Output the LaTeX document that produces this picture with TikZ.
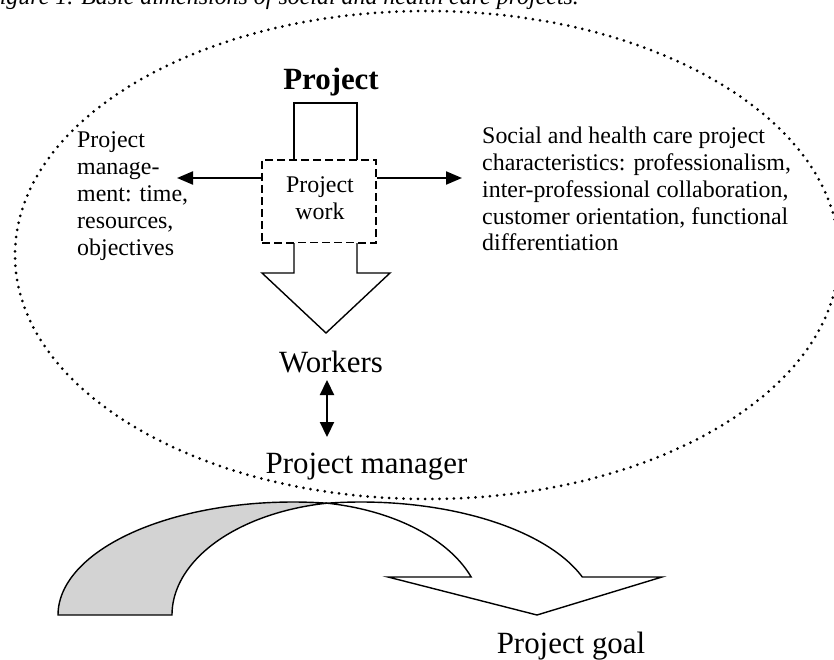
\documentclass[tikz,border=0pt]{standalone}
\usepackage{fontspec}
\setmainfont{Liberation Serif}
\usetikzlibrary{arrows.meta}
\definecolor{backband}{RGB}{211,211,211}
\begin{document}
\begin{tikzpicture}[x=1bp,y=-1bp,
  txt/.style={inner sep=0pt, font=\fontsize{24}{27}\selectfont},
  big/.style={inner sep=0pt, font=\fontsize{31}{36}\selectfont},
  outline/.style={line width=1.4bp, line join=miter},
  dotring/.style={line width=3bp, line cap=round, dash pattern=on 0bp off 7.2bp},
  dashbox/.style={draw, line width=1.4bp, dash pattern=on 8bp off 4bp, inner sep=0pt},
  flow/.style={line width=2.2bp, -{Triangle[length=16bp,width=13bp]}},
  twoway/.style={line width=2.2bp, {Triangle[length=15bp,width=14bp]}-{Triangle[length=15bp,width=14bp]}},
]
\clip (0,0) rectangle (834,660);

% caption line
\node[inner sep=0pt, anchor=base west, font=\fontsize{24}{27}\selectfont\itshape] (caption) at (-15,5)
  {Figure 1. Basic dimensions of social and health care projects.};

% central project box with its frame and outgoing block arrow
\node[dashbox, minimum width=114bp, minimum height=83bp] (workbox) at (319,201.5) {};
\node[txt, align=center, anchor=north] (worklbl) at (320,176.6) {Project\\work};
\draw[outline] (294,160) |- (357,103) -- (357,160);
\draw[outline, fill=white] (294,243) -- (294,273) -- (262,273) -- (326,333) -- (390,273) -- (357,273) -- (357,243);

\node[big, font=\fontsize{31}{36}\selectfont\bfseries, anchor=base] (proj) at (331,90) {Project};

% side descriptions
\node[txt, anchor=north west, align=left] (mgmt) at (77,131.6)
  {Project\\manage-\\ment: time,\\resources,\\objectives};
\node[txt, anchor=north west, align=left] (chars) at (482,126.6)
  {Social and health care project\\characteristics: professionalism,\\inter-professional collaboration,\\customer orientation, functional\\differentiation};

\coordinate (ltip) at (177,178);
\coordinate (rtip) at (462,178);
\draw[flow] (workbox.west |- ltip) -- (ltip);
\draw[flow] (workbox.east |- rtip) -- (rtip);

% people
\node[big, anchor=base] (workers) at (331,372) {Workers};
\node[big, anchor=base] (pm) at (366.5,473) {Project manager};
\coordinate (wkfoot) at (327,380);
\coordinate (pmhead) at (327,437);
\draw[twoway] (wkfoot) -- (pmhead);

% dotted boundary of the project
\draw[dotring] (427,255) ellipse [x radius=412, y radius=244];

% curved arrow towards the goal: back band
\filldraw[outline, fill=backband]
  plot[domain=180:81.7, samples=60] ({293+235*cos(\x)}, {615-113*sin(\x)})
  -- plot[domain=100.1:180, samples=60] ({360+188*cos(\x)}, {615-113.6*sin(\x)})
  -- cycle;
% front band with head
\filldraw[outline, fill=white]
  plot[domain=98.32:19.65, samples=60] ({361+235*cos(\x)}, {615-113*sin(\x)})
  -- (662,577) -- (537,615) -- (388,577)
  -- plot[domain=19.54:79.9, samples=60] ({294+188*cos(\x)}, {615-113.6*sin(\x)})
  -- cycle;

\node[big, anchor=base] (goal) at (571,653) {Project goal};
\end{tikzpicture}
\end{document}
